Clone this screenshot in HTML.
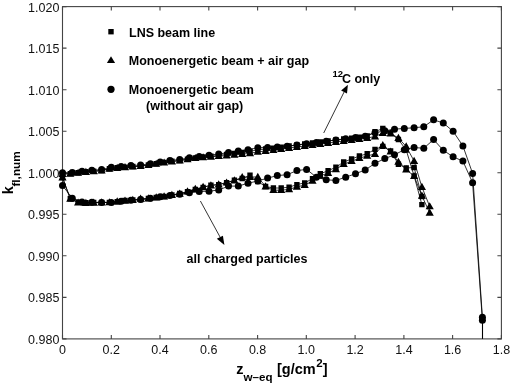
<!DOCTYPE html>
<html><head><meta charset="utf-8"><title>k_fl,num plot</title>
<style>html,body{margin:0;padding:0;background:#fff;width:512px;height:384px;overflow:hidden}svg{display:block}</style>
</head><body>
<svg width="512" height="384" viewBox="0 0 512 384">
<rect width="512" height="384" fill="#fff"/>
<g fill="none" stroke="#444" stroke-width="1.1">
<rect x="62.5" y="6.6" width="438.9" height="332.3"/>
<path d="M62.5 338.9v-4M62.5 6.6v4M111.3 338.9v-4M111.3 6.6v4M160 338.9v-4M160 6.6v4M208.8 338.9v-4M208.8 6.6v4M257.6 338.9v-4M257.6 6.6v4M306.3 338.9v-4M306.3 6.6v4M355.1 338.9v-4M355.1 6.6v4M403.9 338.9v-4M403.9 6.6v4M452.6 338.9v-4M452.6 6.6v4M501.4 338.9v-4M501.4 6.6v4M62.5 338.9h4M501.4 338.9h-4M62.5 297.4h4M501.4 297.4h-4M62.5 255.8h4M501.4 255.8h-4M62.5 214.3h4M501.4 214.3h-4M62.5 172.8h4M501.4 172.8h-4M62.5 131.2h4M501.4 131.2h-4M62.5 89.7h4M501.4 89.7h-4M62.5 48.1h4M501.4 48.1h-4M62.5 6.6h4M501.4 6.6h-4"/>
</g>
<g fill="none" stroke="#000" stroke-width="0.8" stroke-linejoin="round">
<polyline points="62.5,173.8 70.3,173.6 78.1,172.7 85.9,171.8 93.7,171.1 101.6,170.5 109.4,168.7 117.2,167.8 125,167.1 132.8,166.5 140.6,166 148.4,165 156.2,163.7 164.1,162.4 171.9,161.3 179.7,160.5 187.5,159.1 195.3,158 203.1,157 210.9,156.2 218.7,155.4 226.6,154.4 234.4,153.4 242.2,152.4 250,151.3 257.8,149.8 265.6,149 273.4,148.1 281.2,147.1 289.1,146 296.9,145 304.7,144 312.5,143 320.3,142 328.1,141 335.9,140 343.7,139 351.6,138.1 359.4,137.1 367.2,136 375,131.7 382.8,128.5 390.6,133 398.4,139.5 406.2,150 414.1,176 421.9,204.6"/>
<polyline points="62.5,177.5 70.3,198.8 78.1,202.2 85.9,202.8 93.7,202.5 101.6,202.4 109.4,202.4 117.2,201.7 125,200.5 132.8,200 140.6,199.5 148.4,198.5 156.2,197.5 164.1,196.5 171.9,195 179.7,193.5 187.5,191.8 195.3,189.5 203.1,187.5 210.9,185.1 218.7,184.6 226.6,182.6 234.4,180.2 242.2,178.5 250,175.3 257.8,181.5 265.6,186.5 273.4,188 281.2,188 289.1,187.2 296.9,184.6 304.7,182.9 312.5,178.7 320.3,173.7 328.1,170.8 335.9,167.2 343.7,162 351.6,159 359.4,156 367.2,153.7 375,149.4 382.8,146.4 390.6,151 398.4,164.2 406.2,168 414.1,167.5 421.9,196.5"/>
<polyline points="62.5,174 70.3,173.8 78.1,172.9 85.9,172 93.7,171.3 101.6,170.7 109.4,168.9 117.2,168 125,167.3 132.8,166.7 140.6,166.2 148.4,165.2 156.2,163.9 164.1,162.6 171.9,161.5 179.7,160.7 187.5,159.3 195.3,158.2 203.1,157.4 210.9,156.8 218.7,156.2 226.6,155.6 234.4,154.8 242.2,154.1 250,153.3 257.8,151.8 265.6,151 273.4,150.1 281.2,149.1 289.1,148 296.9,147 304.7,146 312.5,145 320.3,144 328.1,143 335.9,142 343.7,141 351.6,140.1 359.4,139.1 367.2,138 375,136.5 382.8,133 390.6,133.5 398.4,138 406.2,146.5 414.1,161 421.9,187 429.7,206.4"/>
<polyline points="62.5,177.5 70.3,198.8 78.1,202.6 85.9,203 93.7,202.8 101.6,202.5 109.4,202.4 117.2,201.5 125,200.8 132.8,200 140.6,198.8 148.4,198.5 156.2,197.5 164.1,196.5 171.9,195 179.7,193.8 187.5,191.5 195.3,189 203.1,187 210.9,185.5 218.7,184.5 226.6,182.6 234.4,180.5 242.2,177.3 250,177 257.8,177 265.6,186.5 273.4,190.2 281.2,190.2 289.1,189.4 296.9,186.8 304.7,185.1 312.5,180.9 320.3,175.9 328.1,173 335.9,169.4 343.7,164.2 351.6,161.2 359.4,158.2 367.2,155.9 375,154 382.8,145.3 390.6,151.7 398.4,161.9 406.2,169.5 414.1,176.1 421.9,195.8 429.7,212.8"/>
<polyline points="62.5,172.8 72.3,172.5 82,171.2 91.8,170.3 101.6,169.5 111.3,167.3 121.1,166.4 130.9,165.6 140.6,165 150.4,163.8 160.2,162 169.9,160.5 179.7,159.5 189.4,157.8 199.2,156.5 209,155.2 218.7,154 228.5,152.6 238.3,151.1 248,149.7 257.8,147.8 267.6,147.4 277.3,147.1 287.1,146.3 296.9,145 306.6,143.7 316.4,142.5 326.2,141.2 335.9,140 345.7,138.8 355.5,137.6 365.2,136.3 375,132.8 384.8,130.8 394.5,129.2 404.3,128.4 414.1,127.8 423.8,126.7 433.6,119.8 443.3,123 453.1,131.3 462.9,145.9 472.6,173.4 482.4,317.3"/>
<polyline points="62.5,185.5 72.3,198.3 82,202 91.8,202.3 101.6,202.4 111.3,202.4 121.1,201.2 130.9,200.3 140.6,199.6 150.4,198.3 160.2,196.8 169.9,195.6 179.7,194.2 189.4,192.8 199.2,191.5 209,191.2 218.7,190 228.5,186.1 238.3,186.1 248,183.2 257.8,181 267.6,178.1 277.3,175.6 287.1,174.7 296.9,170.6 306.6,169.4 316.4,177.2 326.2,179.8 335.9,180.4 345.7,177.2 355.5,173.7 365.2,170 375,163.3 384.8,158.6 394.5,154.8 404.3,149.7 414.1,147.6 423.8,148.2 433.6,139.6 443.3,150.3 453.1,156.8 462.9,161.1 472.6,182.7 482.4,320.3"/>
<polyline stroke-width="1.1" points="482.5,320.3 482.5,338.9"/>
</g>
<g fill="#000">
<path d="M59.8 171.1h5.4v5.4h-5.4zM67.6 170.9h5.4v5.4h-5.4zM75.4 170h5.4v5.4h-5.4zM83.2 169.1h5.4v5.4h-5.4zM91 168.4h5.4v5.4h-5.4zM98.9 167.8h5.4v5.4h-5.4zM106.7 166h5.4v5.4h-5.4zM114.5 165.1h5.4v5.4h-5.4zM122.3 164.4h5.4v5.4h-5.4zM130.1 163.8h5.4v5.4h-5.4zM137.9 163.3h5.4v5.4h-5.4zM145.7 162.3h5.4v5.4h-5.4zM153.5 161h5.4v5.4h-5.4zM161.4 159.7h5.4v5.4h-5.4zM169.2 158.6h5.4v5.4h-5.4zM177 157.8h5.4v5.4h-5.4zM184.8 156.4h5.4v5.4h-5.4zM192.6 155.3h5.4v5.4h-5.4zM200.4 154.3h5.4v5.4h-5.4zM208.2 153.5h5.4v5.4h-5.4zM216 152.7h5.4v5.4h-5.4zM223.9 151.7h5.4v5.4h-5.4zM231.7 150.7h5.4v5.4h-5.4zM239.5 149.7h5.4v5.4h-5.4zM247.3 148.6h5.4v5.4h-5.4zM255.1 147.1h5.4v5.4h-5.4zM262.9 146.3h5.4v5.4h-5.4zM270.7 145.4h5.4v5.4h-5.4zM278.5 144.4h5.4v5.4h-5.4zM286.4 143.3h5.4v5.4h-5.4zM294.2 142.3h5.4v5.4h-5.4zM302 141.3h5.4v5.4h-5.4zM309.8 140.3h5.4v5.4h-5.4zM317.6 139.3h5.4v5.4h-5.4zM325.4 138.3h5.4v5.4h-5.4zM333.2 137.3h5.4v5.4h-5.4zM341 136.3h5.4v5.4h-5.4zM348.9 135.4h5.4v5.4h-5.4zM356.7 134.4h5.4v5.4h-5.4zM364.5 133.3h5.4v5.4h-5.4zM372.3 129h5.4v5.4h-5.4zM380.1 125.8h5.4v5.4h-5.4zM387.9 130.3h5.4v5.4h-5.4zM395.7 136.8h5.4v5.4h-5.4zM403.5 147.3h5.4v5.4h-5.4zM411.4 173.3h5.4v5.4h-5.4zM419.2 201.9h5.4v5.4h-5.4z"/>
<path d="M59.8 174.8h5.4v5.4h-5.4zM67.6 196.1h5.4v5.4h-5.4zM75.4 199.5h5.4v5.4h-5.4zM83.2 200.1h5.4v5.4h-5.4zM91 199.8h5.4v5.4h-5.4zM98.9 199.7h5.4v5.4h-5.4zM106.7 199.7h5.4v5.4h-5.4zM114.5 199h5.4v5.4h-5.4zM122.3 197.8h5.4v5.4h-5.4zM130.1 197.3h5.4v5.4h-5.4zM137.9 196.8h5.4v5.4h-5.4zM145.7 195.8h5.4v5.4h-5.4zM153.5 194.8h5.4v5.4h-5.4zM161.4 193.8h5.4v5.4h-5.4zM169.2 192.3h5.4v5.4h-5.4zM177 190.8h5.4v5.4h-5.4zM184.8 189.1h5.4v5.4h-5.4zM192.6 186.8h5.4v5.4h-5.4zM200.4 184.8h5.4v5.4h-5.4zM208.2 182.4h5.4v5.4h-5.4zM216 181.9h5.4v5.4h-5.4zM223.9 179.9h5.4v5.4h-5.4zM231.7 177.5h5.4v5.4h-5.4zM239.5 175.8h5.4v5.4h-5.4zM247.3 172.6h5.4v5.4h-5.4zM255.1 178.8h5.4v5.4h-5.4zM262.9 183.8h5.4v5.4h-5.4zM270.7 185.3h5.4v5.4h-5.4zM278.5 185.3h5.4v5.4h-5.4zM286.4 184.5h5.4v5.4h-5.4zM294.2 181.9h5.4v5.4h-5.4zM302 180.2h5.4v5.4h-5.4zM309.8 176h5.4v5.4h-5.4zM317.6 171h5.4v5.4h-5.4zM325.4 168.1h5.4v5.4h-5.4zM333.2 164.5h5.4v5.4h-5.4zM341 159.3h5.4v5.4h-5.4zM348.9 156.3h5.4v5.4h-5.4zM356.7 153.3h5.4v5.4h-5.4zM364.5 151h5.4v5.4h-5.4zM372.3 146.7h5.4v5.4h-5.4zM380.1 143.7h5.4v5.4h-5.4zM387.9 148.3h5.4v5.4h-5.4zM395.7 161.5h5.4v5.4h-5.4zM403.5 165.3h5.4v5.4h-5.4zM411.4 164.8h5.4v5.4h-5.4zM419.2 193.8h5.4v5.4h-5.4z"/>
<path d="M62.5 169.8L66.6 176.9L58.4 176.9zM70.3 169.6L74.4 176.7L66.2 176.7zM78.1 168.7L82.2 175.8L74 175.8zM85.9 167.8L90 174.9L81.8 174.9zM93.7 167.1L97.8 174.2L89.6 174.2zM101.6 166.5L105.7 173.6L97.5 173.6zM109.4 164.7L113.5 171.8L105.3 171.8zM117.2 163.8L121.3 170.9L113.1 170.9zM125 163.1L129.1 170.2L120.9 170.2zM132.8 162.5L136.9 169.6L128.7 169.6zM140.6 162L144.7 169.1L136.5 169.1zM148.4 161L152.5 168.1L144.3 168.1zM156.2 159.7L160.3 166.8L152.1 166.8zM164.1 158.4L168.2 165.5L160 165.5zM171.9 157.3L176 164.4L167.8 164.4zM179.7 156.5L183.8 163.6L175.6 163.6zM187.5 155.1L191.6 162.2L183.4 162.2zM195.3 154L199.4 161.1L191.2 161.1zM203.1 153.2L207.2 160.3L199 160.3zM210.9 152.6L215 159.7L206.8 159.7zM218.7 152L222.8 159.1L214.6 159.1zM226.6 151.4L230.7 158.5L222.5 158.5zM234.4 150.6L238.5 157.7L230.3 157.7zM242.2 149.9L246.3 157L238.1 157zM250 149.1L254.1 156.2L245.9 156.2zM257.8 147.6L261.9 154.7L253.7 154.7zM265.6 146.8L269.7 153.9L261.5 153.9zM273.4 145.9L277.5 153L269.3 153zM281.2 144.9L285.3 152L277.1 152zM289.1 143.8L293.2 150.9L285 150.9zM296.9 142.8L301 149.9L292.8 149.9zM304.7 141.8L308.8 148.9L300.6 148.9zM312.5 140.8L316.6 147.9L308.4 147.9zM320.3 139.8L324.4 146.9L316.2 146.9zM328.1 138.8L332.2 145.9L324 145.9zM335.9 137.8L340 144.9L331.8 144.9zM343.7 136.8L347.8 143.9L339.6 143.9zM351.6 135.9L355.7 143L347.5 143zM359.4 134.9L363.5 142L355.3 142zM367.2 133.8L371.3 140.9L363.1 140.9zM375 132.3L379.1 139.4L370.9 139.4zM382.8 128.8L386.9 135.9L378.7 135.9zM390.6 129.3L394.7 136.4L386.5 136.4zM398.4 133.8L402.5 140.9L394.3 140.9zM406.2 142.3L410.3 149.4L402.1 149.4zM414.1 156.8L418.2 163.9L410 163.9zM421.9 182.8L426 189.9L417.8 189.9zM429.7 202.2L433.8 209.3L425.6 209.3z"/>
<path d="M62.5 173.3L66.6 180.4L58.4 180.4zM70.3 194.6L74.4 201.7L66.2 201.7zM78.1 198.4L82.2 205.5L74 205.5zM85.9 198.8L90 205.9L81.8 205.9zM93.7 198.6L97.8 205.7L89.6 205.7zM101.6 198.3L105.7 205.4L97.5 205.4zM109.4 198.2L113.5 205.3L105.3 205.3zM117.2 197.3L121.3 204.4L113.1 204.4zM125 196.6L129.1 203.7L120.9 203.7zM132.8 195.8L136.9 202.9L128.7 202.9zM140.6 194.6L144.7 201.7L136.5 201.7zM148.4 194.3L152.5 201.4L144.3 201.4zM156.2 193.3L160.3 200.4L152.1 200.4zM164.1 192.3L168.2 199.4L160 199.4zM171.9 190.8L176 197.9L167.8 197.9zM179.7 189.6L183.8 196.7L175.6 196.7zM187.5 187.3L191.6 194.4L183.4 194.4zM195.3 184.8L199.4 191.9L191.2 191.9zM203.1 182.8L207.2 189.9L199 189.9zM210.9 181.3L215 188.4L206.8 188.4zM218.7 180.3L222.8 187.4L214.6 187.4zM226.6 178.4L230.7 185.5L222.5 185.5zM234.4 176.3L238.5 183.4L230.3 183.4zM242.2 173.1L246.3 180.2L238.1 180.2zM250 172.8L254.1 179.9L245.9 179.9zM257.8 172.8L261.9 179.9L253.7 179.9zM265.6 182.3L269.7 189.4L261.5 189.4zM273.4 186L277.5 193.1L269.3 193.1zM281.2 186L285.3 193.1L277.1 193.1zM289.1 185.2L293.2 192.3L285 192.3zM296.9 182.6L301 189.7L292.8 189.7zM304.7 180.9L308.8 188L300.6 188zM312.5 176.7L316.6 183.8L308.4 183.8zM320.3 171.7L324.4 178.8L316.2 178.8zM328.1 168.8L332.2 175.9L324 175.9zM335.9 165.2L340 172.3L331.8 172.3zM343.7 160L347.8 167.1L339.6 167.1zM351.6 157L355.7 164.1L347.5 164.1zM359.4 154L363.5 161.1L355.3 161.1zM367.2 151.7L371.3 158.8L363.1 158.8zM375 149.8L379.1 156.9L370.9 156.9zM382.8 141.1L386.9 148.2L378.7 148.2zM390.6 147.5L394.7 154.6L386.5 154.6zM398.4 157.7L402.5 164.8L394.3 164.8zM406.2 165.3L410.3 172.4L402.1 172.4zM414.1 171.9L418.2 179L410 179zM421.9 191.6L426 198.7L417.8 198.7zM429.7 208.6L433.8 215.7L425.6 215.7z"/>
<circle cx="62.5" cy="172.8" r="3.5"/><circle cx="72.3" cy="172.5" r="3.5"/><circle cx="82" cy="171.2" r="3.5"/><circle cx="91.8" cy="170.3" r="3.5"/><circle cx="101.6" cy="169.5" r="3.5"/><circle cx="111.3" cy="167.3" r="3.5"/><circle cx="121.1" cy="166.4" r="3.5"/><circle cx="130.9" cy="165.6" r="3.5"/><circle cx="140.6" cy="165" r="3.5"/><circle cx="150.4" cy="163.8" r="3.5"/><circle cx="160.2" cy="162" r="3.5"/><circle cx="169.9" cy="160.5" r="3.5"/><circle cx="179.7" cy="159.5" r="3.5"/><circle cx="189.4" cy="157.8" r="3.5"/><circle cx="199.2" cy="156.5" r="3.5"/><circle cx="209" cy="155.2" r="3.5"/><circle cx="218.7" cy="154" r="3.5"/><circle cx="228.5" cy="152.6" r="3.5"/><circle cx="238.3" cy="151.1" r="3.5"/><circle cx="248" cy="149.7" r="3.5"/><circle cx="257.8" cy="147.8" r="3.5"/><circle cx="267.6" cy="147.4" r="3.5"/><circle cx="277.3" cy="147.1" r="3.5"/><circle cx="287.1" cy="146.3" r="3.5"/><circle cx="296.9" cy="145" r="3.5"/><circle cx="306.6" cy="143.7" r="3.5"/><circle cx="316.4" cy="142.5" r="3.5"/><circle cx="326.2" cy="141.2" r="3.5"/><circle cx="335.9" cy="140" r="3.5"/><circle cx="345.7" cy="138.8" r="3.5"/><circle cx="355.5" cy="137.6" r="3.5"/><circle cx="365.2" cy="136.3" r="3.5"/><circle cx="375" cy="132.8" r="3.5"/><circle cx="384.8" cy="130.8" r="3.5"/><circle cx="394.5" cy="129.2" r="3.5"/><circle cx="404.3" cy="128.4" r="3.5"/><circle cx="414.1" cy="127.8" r="3.5"/><circle cx="423.8" cy="126.7" r="3.5"/><circle cx="433.6" cy="119.8" r="3.5"/><circle cx="443.3" cy="123" r="3.5"/><circle cx="453.1" cy="131.3" r="3.5"/><circle cx="462.9" cy="145.9" r="3.5"/><circle cx="472.6" cy="173.4" r="3.5"/><circle cx="482.4" cy="317.3" r="3.5"/>
<circle cx="62.5" cy="185.5" r="3.5"/><circle cx="72.3" cy="198.3" r="3.5"/><circle cx="82" cy="202" r="3.5"/><circle cx="91.8" cy="202.3" r="3.5"/><circle cx="101.6" cy="202.4" r="3.5"/><circle cx="111.3" cy="202.4" r="3.5"/><circle cx="121.1" cy="201.2" r="3.5"/><circle cx="130.9" cy="200.3" r="3.5"/><circle cx="140.6" cy="199.6" r="3.5"/><circle cx="150.4" cy="198.3" r="3.5"/><circle cx="160.2" cy="196.8" r="3.5"/><circle cx="169.9" cy="195.6" r="3.5"/><circle cx="179.7" cy="194.2" r="3.5"/><circle cx="189.4" cy="192.8" r="3.5"/><circle cx="199.2" cy="191.5" r="3.5"/><circle cx="209" cy="191.2" r="3.5"/><circle cx="218.7" cy="190" r="3.5"/><circle cx="228.5" cy="186.1" r="3.5"/><circle cx="238.3" cy="186.1" r="3.5"/><circle cx="248" cy="183.2" r="3.5"/><circle cx="257.8" cy="181" r="3.5"/><circle cx="267.6" cy="178.1" r="3.5"/><circle cx="277.3" cy="175.6" r="3.5"/><circle cx="287.1" cy="174.7" r="3.5"/><circle cx="296.9" cy="170.6" r="3.5"/><circle cx="306.6" cy="169.4" r="3.5"/><circle cx="316.4" cy="177.2" r="3.5"/><circle cx="326.2" cy="179.8" r="3.5"/><circle cx="335.9" cy="180.4" r="3.5"/><circle cx="345.7" cy="177.2" r="3.5"/><circle cx="355.5" cy="173.7" r="3.5"/><circle cx="365.2" cy="170" r="3.5"/><circle cx="375" cy="163.3" r="3.5"/><circle cx="384.8" cy="158.6" r="3.5"/><circle cx="394.5" cy="154.8" r="3.5"/><circle cx="404.3" cy="149.7" r="3.5"/><circle cx="414.1" cy="147.6" r="3.5"/><circle cx="423.8" cy="148.2" r="3.5"/><circle cx="433.6" cy="139.6" r="3.5"/><circle cx="443.3" cy="150.3" r="3.5"/><circle cx="453.1" cy="156.8" r="3.5"/><circle cx="462.9" cy="161.1" r="3.5"/><circle cx="472.6" cy="182.7" r="3.5"/><circle cx="482.4" cy="320.3" r="3.5"/>
<path d="M108.3 29h5.4v5.4h-5.4z"/>
<path d="M111 56.2L115.1 63.1L106.9 63.1z"/>
<circle cx="111" cy="89.3" r="3.6"/>
</g>
<g stroke="#000" stroke-width="0.8" fill="#000">
<line x1="323.7" y1="133" x2="344.2" y2="91.8"/>
<path d="M347.9 84.7L347 93.5L341.1 90.5z" stroke="none"/>
<line x1="200.4" y1="201" x2="220.2" y2="237.3"/>
<path d="M224.4 244.9L216.8 238.7L222.9 235.8z" stroke="none"/>
</g>
<g font-family="Liberation Sans, Arial, sans-serif">
<text transform="translate(59.4 343.9) scale(0.1 0.1)" font-size="125" text-anchor="end" fill="#111">0.980</text>
<text transform="translate(59.4 302.4) scale(0.1 0.1)" font-size="125" text-anchor="end" fill="#111">0.985</text>
<text transform="translate(59.4 260.8) scale(0.1 0.1)" font-size="125" text-anchor="end" fill="#111">0.990</text>
<text transform="translate(59.4 219.3) scale(0.1 0.1)" font-size="125" text-anchor="end" fill="#111">0.995</text>
<text transform="translate(59.4 177.8) scale(0.1 0.1)" font-size="125" text-anchor="end" fill="#111">1.000</text>
<text transform="translate(59.4 136.2) scale(0.1 0.1)" font-size="125" text-anchor="end" fill="#111">1.005</text>
<text transform="translate(59.4 94.7) scale(0.1 0.1)" font-size="125" text-anchor="end" fill="#111">1.010</text>
<text transform="translate(59.4 53.1) scale(0.1 0.1)" font-size="125" text-anchor="end" fill="#111">1.015</text>
<text transform="translate(59.4 11.6) scale(0.1 0.1)" font-size="125" text-anchor="end" fill="#111">1.020</text>
<text transform="translate(62.5 353.9) scale(0.1 0.1)" font-size="125" text-anchor="middle" fill="#111">0</text>
<text transform="translate(111.3 353.9) scale(0.1 0.1)" font-size="125" text-anchor="middle" fill="#111">0.2</text>
<text transform="translate(160 353.9) scale(0.1 0.1)" font-size="125" text-anchor="middle" fill="#111">0.4</text>
<text transform="translate(208.8 353.9) scale(0.1 0.1)" font-size="125" text-anchor="middle" fill="#111">0.6</text>
<text transform="translate(257.6 353.9) scale(0.1 0.1)" font-size="125" text-anchor="middle" fill="#111">0.8</text>
<text transform="translate(306.3 353.9) scale(0.1 0.1)" font-size="125" text-anchor="middle" fill="#111">1.0</text>
<text transform="translate(355.1 353.9) scale(0.1 0.1)" font-size="125" text-anchor="middle" fill="#111">1.2</text>
<text transform="translate(403.9 353.9) scale(0.1 0.1)" font-size="125" text-anchor="middle" fill="#111">1.4</text>
<text transform="translate(452.6 353.9) scale(0.1 0.1)" font-size="125" text-anchor="middle" fill="#111">1.6</text>
<text transform="translate(501.4 353.9) scale(0.1 0.1)" font-size="125" text-anchor="middle" fill="#111">1.8</text>
<text transform="translate(129 37.1) scale(0.1 0.1)" font-size="125" font-weight="bold" fill="#000">LNS beam line</text>
<text transform="translate(128.8 65.2) scale(0.1 0.1)" font-size="125" font-weight="bold" fill="#000">Monoenergetic beam + air gap</text>
<text transform="translate(128.8 94.1) scale(0.1 0.1)" font-size="125" font-weight="bold" fill="#000">Monoenergetic beam</text>
<text transform="translate(146 109.7) scale(0.1 0.1)" font-size="125" font-weight="bold" fill="#000">(without air gap)</text>
<text transform="translate(186.6 262.7) scale(0.1 0.1)" font-size="125" font-weight="bold" fill="#000">all charged particles</text>
<text transform="translate(332.4 83) scale(0.1 0.1)" font-size="125" font-weight="bold" fill="#000"><tspan font-size="95" dy="-58">12</tspan><tspan dx="-10" dy="58">C only</tspan></text>
<text transform="translate(236.3 374.2) scale(0.1 0.1)" font-size="145" font-weight="bold" fill="#000">z<tspan font-size="116" dy="70">w&#8211;eq</tspan><tspan dx="4" dy="-70"> [g/cm</tspan><tspan font-size="115" dx="6" dy="-74">2</tspan><tspan dy="74">]</tspan></text>
<text transform="translate(13 194.2) rotate(-90) scale(0.1 0.1)" font-size="144" font-weight="bold" fill="#000">k<tspan font-size="118" dx="-4" dy="74">fl,num</tspan></text>
</g>
</svg>
</body></html>
